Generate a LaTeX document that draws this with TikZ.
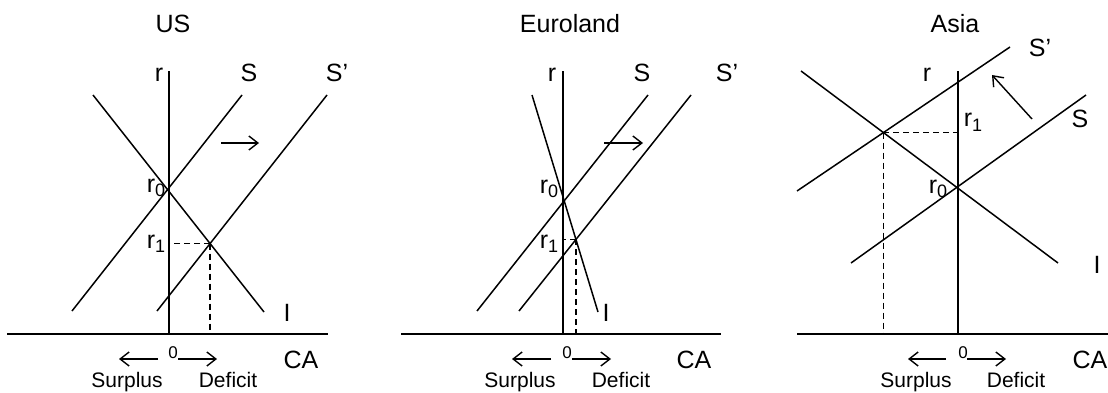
\documentclass[tikz,border=0pt]{standalone}
\usepackage{fontspec}
\setmainfont{Liberation Sans}
\usepackage{tikz}
\usetikzlibrary{arrows.meta}

\newcommand{\lowsub}[1]{\raisebox{-0.35ex}{\fontsize{18}{18}\selectfont #1}}

\tikzset{
	axisline/.style={line width=1.6pt},
	curveline/.style={line width=1.5pt},
	guideline/.style={line width=1.5pt, dash pattern=on 6pt off 4pt},
	shiftarrow/.style={line width=1.4pt, -{Straight Barb[length=9pt,width=14pt]}},
	lbl/.style={anchor=base, inner sep=0pt, font=\fontsize{25}{25}\selectfont},
	smalllbl/.style={anchor=base, inner sep=0pt, font=\fontsize{21}{21}\selectfont},
	zerolbl/.style={anchor=base, inner sep=0pt, font=\fontsize{17}{17}\selectfont}
}

\begin{document}
\begin{tikzpicture}[x=1pt, y=-1pt]
	\useasboundingbox (0,0) rectangle (1108,393);

	% US
	\coordinate (O1) at (169,334);
	\coordinate (R1) at (169,71);
	\coordinate (XL1) at (7,334);
	\coordinate (XR1) at (328,334);
	\coordinate (S1a) at (72,311);
	\coordinate (S1b) at (242,95);
	\coordinate (T1a) at (157,311);
	\coordinate (T1b) at (327,95);
	\coordinate (I1a) at (93,95);
	\coordinate (I1b) at (264,312);
	\coordinate (E1) at (intersection of T1a--T1b and I1a--I1b);
	\coordinate (M1a) at (221,143);
	\coordinate (M1b) at (259,143);

	\draw[axisline] (XL1) -- (XR1);
	\draw[axisline] (O1) -- (R1);
	\draw[curveline] (S1a) -- (S1b);
	\draw[curveline] (T1a) -- (T1b);
	\draw[curveline] (I1a) -- (I1b);
	\draw[guideline] (E1) -- (E1 -| O1);
	\draw[guideline] (E1) -- (E1 |- O1);
	\draw[shiftarrow] (M1a) -- (M1b);
	\draw[shiftarrow] (158,359) -- (119,359);
	\draw[shiftarrow] (178,359) -- (217,359);

	% Euroland
	\coordinate (O2) at (563,334);
	\coordinate (R2) at (563,71);
	\coordinate (XL2) at (401,334);
	\coordinate (XR2) at (721,334);
	\coordinate (S2a) at (477,311);
	\coordinate (S2b) at (648,95);
	\coordinate (T2a) at (519,311);
	\coordinate (T2b) at (691,95);
	\coordinate (I2a) at (532,95);
	\coordinate (I2b) at (598,312);
	\coordinate (E2) at (intersection of T2a--T2b and I2a--I2b);
	\coordinate (M2a) at (604,143);
	\coordinate (M2b) at (643,143);

	\draw[axisline] (XL2) -- (XR2);
	\draw[axisline] (O2) -- (R2);
	\draw[curveline] (S2a) -- (S2b);
	\draw[curveline] (T2a) -- (T2b);
	\draw[curveline] (I2a) -- (I2b);
	\draw[guideline] (E2) -- (E2 -| O2);
	\draw[guideline] (E2) -- (E2 |- O2);
	\draw[shiftarrow] (M2a) -- (M2b);
	\draw[shiftarrow] (551,359) -- (512,359);
	\draw[shiftarrow] (572,359) -- (611,359);

	% Asia
	\coordinate (O3) at (958,334);
	\coordinate (R3) at (958,71);
	\coordinate (XL3) at (797,334);
	\coordinate (XR3) at (1108,334);
	\coordinate (S3a) at (851,263);
	\coordinate (S3b) at (1086,95);
	\coordinate (T3a) at (797,191);
	\coordinate (T3b) at (1010,47);
	\coordinate (I3a) at (801,71);
	\coordinate (I3b) at (1058,263);
	\coordinate (E3) at (intersection of T3a--T3b and I3a--I3b);
	\coordinate (M3a) at (1032,119);
	\coordinate (M3b) at (992,75);

	\draw[axisline] (XL3) -- (XR3);
	\draw[axisline] (O3) -- (R3);
	\draw[curveline] (S3a) -- (S3b);
	\draw[curveline] (T3a) -- (T3b);
	\draw[curveline] (I3a) -- (I3b);
	\draw[guideline] (E3) -- (E3 -| O3);
	\draw[guideline] (E3) -- (E3 |- O3);
	\draw[shiftarrow] (M3a) -- (M3b);
	\draw[shiftarrow] (946,359) -- (908,359);
	\draw[shiftarrow] (967,359) -- (1006,359);

	% big labels
	\foreach \x/\y/\txt/\nm in {
		173/33/US/tUS, 570/33/Euroland/tEU, 955/33/Asia/tAS,
		159/82/r/r1, 249/82/S/s1, 337/82/S'/t1, 287/321/I/i1, 301/368/CA/ca1,
		552/82/r/r2, 642/82/S/s2, 727/82/S'/t2, 606/321/I/i2, 694/368/CA/ca2,
		927/82/r/r3, 1080/128/S/s3, 1040/57/S'/t3, 1097/273/I/i3, 1090/368/CA/ca3,
		156/192/{r\lowsub{0}}/ra1, 156/248/{r\lowsub{1}}/rb1,
		549/193/{r\lowsub{0}}/ra2, 549/248/{r\lowsub{1}}/rb2,
		938/193/{r\lowsub{0}}/ra3, 973/127/{r\lowsub{1}}/rb3
	}{
		\node[lbl] (\nm) at (\x,\y) {\txt};
	}
	% small labels
	\foreach \x/\y/\txt/\nm in {
		127/387/Surplus/su1, 228/387/Deficit/de1,
		520/387/Surplus/su2, 621/387/Deficit/de2,
		916/387/Surplus/su3, 1016/387/Deficit/de3
	}{
		\node[smalllbl] (\nm) at (\x,\y) {\txt};
	}
	\foreach \x/\nm in {173/z1, 567/z2, 963/z3}{
		\node[zerolbl] (\nm) at (\x,358) {0};
	}
\end{tikzpicture}
\end{document}
